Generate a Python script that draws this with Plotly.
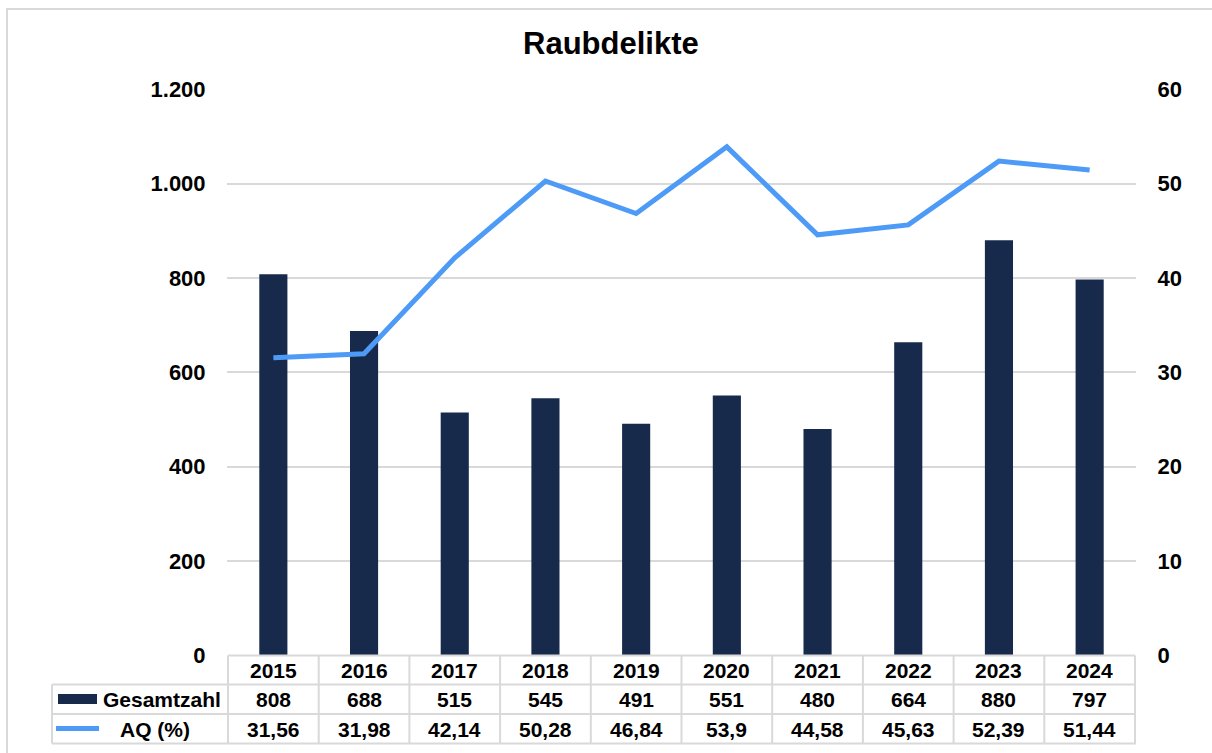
import plotly.graph_objects as go

W, H = 1212, 753

years = ["2015", "2016", "2017", "2018", "2019", "2020", "2021", "2022", "2023", "2024"]
gesamtzahl = [808, 688, 515, 545, 491, 551, 480, 664, 880, 797]
aq_prozent = [31.56, 31.98, 42.14, 50.28, 46.84, 53.9, 44.58, 45.63, 52.39, 51.44]

NAVY = "#172A4B"
BLUE = "#4D9BF7"
GRID = "#D9D9D9"
FONT = "Liberation Sans, Arial, sans-serif"


def px(x):
    return x / W


def py(y):
    return 1 - y / H


fig = go.Figure()

fig.add_trace(go.Bar(x=years, y=gesamtzahl, name="Gesamtzahl",
                     marker=dict(color=NAVY, line=dict(width=0))))
fig.add_trace(go.Scatter(x=years, y=aq_prozent, name="AQ (%)", yaxis="y2",
                         mode="lines", line=dict(color=BLUE, width=5)))

# chart frame (only left and top visible)
shapes = [dict(type="rect", xref="paper", yref="paper", x0=px(7), x1=px(1240),
               y0=py(780), y1=py(9), line=dict(color=GRID, width=2), layer="below")]

# data table below the plot
row_top, row1, row2, row_bot = 655.5, 684.5, 714, 743.5
tbl_left = 52
line_style = dict(color=GRID, width=2)
for yy, xl in [(row_top, None), (row1, tbl_left), (row2, tbl_left), (row_bot, tbl_left)]:
    if xl is None:
        shapes.append(dict(type="line", xref="x", yref="paper", x0=-0.5, x1=len(years) - 0.5,
                           y0=py(yy), y1=py(yy), line=line_style))
    else:
        shapes.append(dict(type="line", xref="paper", yref="paper", x0=px(xl), x1=px(1136),
                           y0=py(yy), y1=py(yy), line=line_style))
for i in range(len(years) + 1):
    shapes.append(dict(type="line", xref="x", yref="paper", x0=i - 0.5, x1=i - 0.5,
                       y0=py(row_top), y1=py(row_bot), line=line_style))
shapes.append(dict(type="line", xref="paper", yref="paper", x0=px(tbl_left), x1=px(tbl_left),
                   y0=py(row1), y1=py(row_bot), line=line_style))

# legend keys inside the table
shapes.append(dict(type="rect", xref="paper", yref="paper", x0=px(58), x1=px(97),
                   y0=py(704), y1=py(694), fillcolor=NAVY, line=dict(width=0)))
shapes.append(dict(type="line", xref="paper", yref="paper", x0=px(56), x1=px(99),
                   y0=py(728.5), y1=py(728.5), line=dict(color=BLUE, width=5)))

tfont = dict(family=FONT, size=21, color="#000000", weight="bold")
ann = dict(showarrow=False, xanchor="center", yanchor="middle")
annotations = [dict(text="Raubdelikte", xref="paper", yref="paper", x=px(611), y=py(44),
                    font=dict(family=FONT, size=31, color="#000000", weight="bold"), **ann)]
annotations.append(dict(text="Gesamtzahl", xref="paper", yref="paper", x=px(101), y=py(699),
                        showarrow=False, xanchor="left", yanchor="middle", font=tfont))
annotations.append(dict(text="AQ (%)", xref="paper", yref="paper", x=px(118), y=py(729),
                        showarrow=False, xanchor="left", yanchor="middle", font=tfont))
for i, yr in enumerate(years):
    annotations.append(dict(text=yr, xref="x", yref="paper", x=i, y=py(670), font=tfont, **ann))
    annotations.append(dict(text=str(gesamtzahl[i]), xref="x", yref="paper", x=i, y=py(699.5),
                            font=tfont, **ann))
    annotations.append(dict(text=str(aq_prozent[i]).replace(".", ","), xref="x", yref="paper",
                            x=i, y=py(729), font=tfont, **ann))

tick_font = dict(family=FONT, size=22, color="#000000", weight="bold")
fig.update_layout(
    width=W, height=H,
    margin=dict(l=0, r=0, t=0, b=0, pad=0, autoexpand=False),
    paper_bgcolor="white", plot_bgcolor="white",
    showlegend=False,
    separators=",.",
    bargap=0.69,
    xaxis=dict(domain=[px(227), px(1136)], showticklabels=False, showgrid=False,
               zeroline=False, showline=False, ticks="", automargin=False),
    yaxis=dict(domain=[py(655.5), py(89.3)], range=[0, 1200], dtick=200,
               separatethousands=True, showgrid=True, gridcolor=GRID, gridwidth=2,
               zeroline=False, showline=False, tickfont=tick_font, automargin=False,
               ticks="outside", ticklen=16, tickcolor="rgba(0,0,0,0)"),
    yaxis2=dict(overlaying="y", side="right", range=[0, 60], dtick=10,
                showgrid=False, zeroline=False, showline=False, tickfont=tick_font,
                automargin=False, ticks="outside", ticklen=16, tickcolor="rgba(0,0,0,0)"),
    shapes=shapes,
    annotations=annotations,
)

fig.write_html("out.html", config={"displayModeBar": False},
               post_script="document.body.style.margin = '0';")
